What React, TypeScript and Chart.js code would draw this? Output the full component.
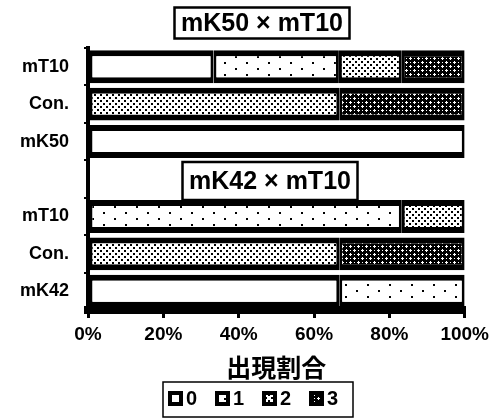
import React, { useEffect, useRef } from 'react';
import { Chart, registerables } from 'chart.js';

Chart.register(...registerables);

// ---- data ----
const categories = ['mT10', 'Con.', 'mK50', '', 'mT10', 'Con.', 'mK42'];
const seriesLabels = ['0', '1', '2', '3'];
const score0 = [33.3, 0, 100, 0, 0, 0, 66.7];
const score1 = [33.3, 0, 0, 0, 83.3, 0, 33.3];
const score2 = [16.7, 66.7, 0, 0, 16.7, 66.7, 0];
const score3 = [16.7, 33.3, 0, 0, 0, 33.3, 0];
const xTickStep = 20;
const groupTitles = ['mK50 × mT10', 'mK42 × mT10'];
const groupTitleRows = [-1, 3];
const axisTitle = '出現割合';

const FONT = '"Liberation Sans", Arial, sans-serif';
const CJK = '"Noto Sans CJK JP", "Noto Sans CJK SC", sans-serif';

function makeTile(kind: number): HTMLCanvasElement {
  const c = document.createElement('canvas');
  const g = c.getContext('2d') as CanvasRenderingContext2D;
  if (kind === 0) {
    c.width = 4; c.height = 4;
    g.fillStyle = '#fff'; g.fillRect(0, 0, 4, 4);
  } else if (kind === 1) {
    c.width = 22; c.height = 12;
    g.fillStyle = '#fff'; g.fillRect(0, 0, 22, 12);
    g.fillStyle = '#000';
    g.fillRect(4, 2, 2, 2);
    g.fillRect(15, 8, 2, 2);
  } else if (kind === 2) {
    c.width = 6; c.height = 6;
    g.fillStyle = '#fff'; g.fillRect(0, 0, 6, 6);
    g.fillStyle = '#000';
    g.fillRect(1, 1, 2, 2);
    g.fillRect(4, 4, 2, 2);
  } else {
    const n = 8;
    c.width = n; c.height = n;
    g.fillStyle = '#000'; g.fillRect(0, 0, n, n);
    g.fillStyle = '#fff';
    const px = (x: number, y: number) => g.fillRect(((x % n) + n) % n, ((y % n) + n) % n, 1, 1);
    const plus = (x: number, y: number) => {
      for (let d = -1; d <= 1; d++) {
        px(x + d, y);
        px(x, y + d);
      }
    };
    plus(2, 2);
    plus(6, 6);
    px(6, 2);
    px(2, 6);
  }
  return c;
}

const decorPlugin = {
  id: 'decor',
  afterDraw(chart: any) {
    const { ctx, chartArea, scales } = chart;
    const yScale = scales.y;
    ctx.save();
    const drawBox = (text: string, cx: number, cy: number, w: number, h: number) => {
      ctx.fillStyle = '#fff';
      ctx.fillRect(cx - w / 2, cy - h / 2, w, h);
      ctx.lineWidth = 2.5;
      ctx.strokeStyle = '#000';
      ctx.strokeRect(cx - w / 2, cy - h / 2, w, h);
      ctx.fillStyle = '#000';
      ctx.font = `bold 25px ${FONT}`;
      ctx.textAlign = 'center';
      ctx.textBaseline = 'middle';
      ctx.fillText(text, cx, cy + 1);
    };
    groupTitles.forEach((t, i) => {
      const row = groupTitleRows[i];
      if (row < 0) {
        drawBox(t, 262, chartArea.top - 25, 175, 31);
      } else {
        drawBox(t, 270, yScale.getPixelForValue(row) + 2, 175, 38);
      }
    });

    // legend
    const lx = 163, ly = 382, lw = 190, lh = 35;
    ctx.lineWidth = 1.5;
    ctx.strokeStyle = '#000';
    ctx.strokeRect(lx, ly, lw, lh);
    chart.data.datasets.forEach((ds: any, i: number) => {
      const x = 168 + i * 47;
      const y = 391;
      ctx.fillStyle = '#000';
      ctx.fillRect(x, y, 15, 15);
      ctx.fillStyle = ds.backgroundColor;
      ctx.fillRect(x + 4, y + 4, 7, 7);
      ctx.fillStyle = '#000';
      ctx.font = `bold 20px ${FONT}`;
      ctx.textAlign = 'left';
      ctx.textBaseline = 'middle';
      ctx.fillText(ds.label, x + 18, y + 8.5);
    });
    ctx.restore();
  },
};

export default function App() {
  const ref = useRef<HTMLCanvasElement | null>(null);
  useEffect(() => {
    const canvas = ref.current;
    if (!canvas) return;
    document.body.style.margin = '0';
    const ctx = canvas.getContext('2d') as CanvasRenderingContext2D;
    const patterns = [0, 1, 2, 3].map((k) => ctx.createPattern(makeTile(k), 'repeat'));
    const series = [score0, score1, score2, score3];
    const chart = new Chart(canvas, {
      type: 'bar',
      data: {
        labels: categories,
        datasets: series.map((d, i) => ({
          label: seriesLabels[i],
          data: d,
          backgroundColor: patterns[i] as any,
          borderColor: '#000',
          borderWidth: { top: 6, bottom: 6, left: 3, right: 3 },
          borderSkipped: false,
          barPercentage: 0.88,
          categoryPercentage: 1,
        })),
      },
      options: {
        indexAxis: 'y',
        responsive: false,
        animation: false,
        layout: { padding: { top: 48, right: 26, left: 0, bottom: 0 } },
        plugins: {
          legend: { display: false },
          tooltip: { enabled: false },
          title: { display: false },
        },
        scales: {
          x: {
            stacked: true,
            min: 0,
            max: 100,
            ticks: {
              stepSize: xTickStep,
              callback: (v: any) => `${v}%`,
              color: '#000',
              font: { family: FONT, size: 19, weight: 'bold' },
              padding: 5,
              maxRotation: 0,
            },
            grid: {
              drawOnChartArea: false,
              drawTicks: true,
              tickLength: 8,
              lineWidth: 3,
              color: '#000',
            },
            border: { display: true, color: '#000', width: 8 },
            title: {
              display: true,
              text: axisTitle,
              color: '#000',
              font: { family: CJK, size: 25, weight: 'bold' },
              padding: { top: 6, bottom: 37 },
            },
            afterFit: (scale: any) => {
              scale.height = 109;
            },
          },
          y: {
            stacked: true,
            ticks: {
              color: '#000',
              font: { family: FONT, size: 18, weight: 'bold' },
              padding: 15,
            },
            grid: {
              drawOnChartArea: false,
              drawTicks: true,
              tickLength: 4,
              lineWidth: 2,
              color: '#000',
            },
            border: { display: true, color: '#000', width: 4 },
            afterFit: (scale: any) => {
              scale.width = 88;
            },
          },
        },
      } as any,
      plugins: [decorPlugin],
    });
    return () => chart.destroy();
  }, []);
  return (
    <div style={{ position: 'fixed', left: 0, top: 0, width: 494, height: 419, background: '#fff' }}>
      <canvas ref={ref} width={494} height={419} />
    </div>
  );
}
